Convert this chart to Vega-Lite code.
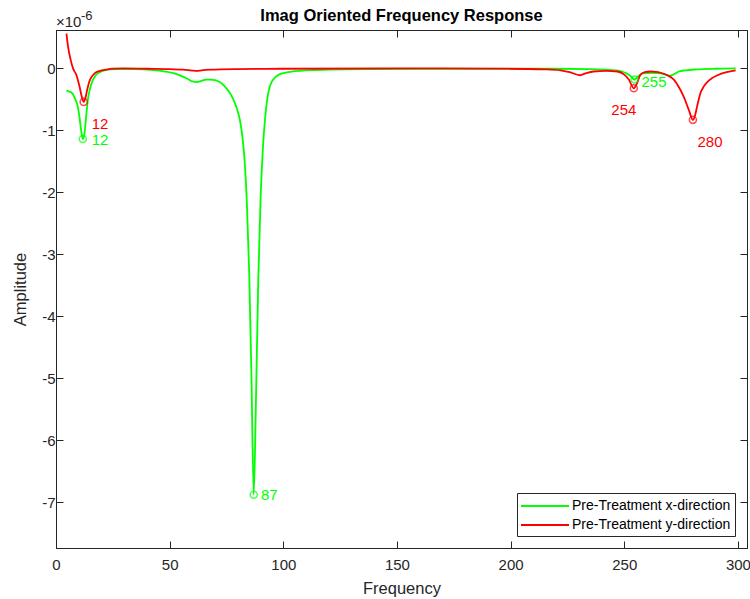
{
  "$schema": "https://vega.github.io/schema/vega-lite/v6.json",
  "width": 691,
  "height": 518,
  "autosize": {"type": "none"},
  "padding": {"left": 56, "top": 30, "right": 3, "bottom": 51},
  "background": "white",
  "config": {
    "font": "Liberation Sans",
    "view": {"stroke": "#262626", "strokeWidth": 1},
    "axis": {
      "domainColor": "#262626",
      "domainWidth": 1,
      "tickColor": "#262626",
      "tickWidth": 1,
      "tickSize": -7,
      "grid": false,
      "labelFlush": false,
      "labelFont": "Liberation Sans",
      "labelFontSize": 15,
      "labelColor": "#262626",
      "titleFont": "Liberation Sans",
      "titleFontSize": 16.5,
      "titleFontWeight": "normal",
      "titleColor": "#262626"
    },
    "legend": {
      "orient": "bottom-right",
      "offset": 12,
      "strokeColor": "#262626",
      "fillColor": "white",
      "padding": 4,
      "cornerRadius": 0,
      "labelFont": "Liberation Sans",
      "labelFontSize": 14,
      "labelColor": "#000000",
      "labelOffset": 18,
      "labelLimit": 400,
      "symbolType": "M-3,0H3",
      "symbolStrokeWidth": 2,
      "symbolSize": 256,
      "symbolOffset": 15,
      "rowPadding": 3,
      "title": null
    }
  },
  "title": {
    "text": "Imag Oriented Frequency Response",
    "font": "Liberation Sans",
    "fontSize": 16.5,
    "fontWeight": "bold",
    "color": "#000000",
    "anchor": "middle",
    "frame": "group",
    "offset": 6,
    "dy": 20
  },
  "resolve": {"axis": {"x": "independent", "y": "independent"}},
  "datasets": {
    "lines": [
      {"series": "Pre-Treatment x-direction", "f": 4.6, "a": -0.36},
      {"series": "Pre-Treatment x-direction", "f": 5.5, "a": -0.37},
      {"series": "Pre-Treatment x-direction", "f": 6.5, "a": -0.38},
      {"series": "Pre-Treatment x-direction", "f": 7.5, "a": -0.42},
      {"series": "Pre-Treatment x-direction", "f": 8.5, "a": -0.5},
      {"series": "Pre-Treatment x-direction", "f": 9.5, "a": -0.6},
      {"series": "Pre-Treatment x-direction", "f": 10.3, "a": -0.78},
      {"series": "Pre-Treatment x-direction", "f": 11, "a": -0.98},
      {"series": "Pre-Treatment x-direction", "f": 11.8, "a": -1.14},
      {"series": "Pre-Treatment x-direction", "f": 12.5, "a": -1.06},
      {"series": "Pre-Treatment x-direction", "f": 13.2, "a": -0.8},
      {"series": "Pre-Treatment x-direction", "f": 14, "a": -0.51},
      {"series": "Pre-Treatment x-direction", "f": 15, "a": -0.32},
      {"series": "Pre-Treatment x-direction", "f": 16.2, "a": -0.19},
      {"series": "Pre-Treatment x-direction", "f": 17.5, "a": -0.11},
      {"series": "Pre-Treatment x-direction", "f": 19.3, "a": -0.06},
      {"series": "Pre-Treatment x-direction", "f": 21.5, "a": -0.03},
      {"series": "Pre-Treatment x-direction", "f": 24, "a": -0.015},
      {"series": "Pre-Treatment x-direction", "f": 28, "a": -0.01},
      {"series": "Pre-Treatment x-direction", "f": 35, "a": -0.012},
      {"series": "Pre-Treatment x-direction", "f": 42, "a": -0.025},
      {"series": "Pre-Treatment x-direction", "f": 48, "a": -0.05},
      {"series": "Pre-Treatment x-direction", "f": 52, "a": -0.08},
      {"series": "Pre-Treatment x-direction", "f": 55, "a": -0.12},
      {"series": "Pre-Treatment x-direction", "f": 58, "a": -0.17},
      {"series": "Pre-Treatment x-direction", "f": 60, "a": -0.21},
      {"series": "Pre-Treatment x-direction", "f": 62, "a": -0.22},
      {"series": "Pre-Treatment x-direction", "f": 64, "a": -0.2},
      {"series": "Pre-Treatment x-direction", "f": 66, "a": -0.18},
      {"series": "Pre-Treatment x-direction", "f": 68, "a": -0.18},
      {"series": "Pre-Treatment x-direction", "f": 70, "a": -0.19},
      {"series": "Pre-Treatment x-direction", "f": 72, "a": -0.22},
      {"series": "Pre-Treatment x-direction", "f": 74, "a": -0.28},
      {"series": "Pre-Treatment x-direction", "f": 76, "a": -0.37},
      {"series": "Pre-Treatment x-direction", "f": 78, "a": -0.5},
      {"series": "Pre-Treatment x-direction", "f": 79.5, "a": -0.64},
      {"series": "Pre-Treatment x-direction", "f": 81, "a": -0.85},
      {"series": "Pre-Treatment x-direction", "f": 82, "a": -1.1},
      {"series": "Pre-Treatment x-direction", "f": 83, "a": -1.5},
      {"series": "Pre-Treatment x-direction", "f": 84, "a": -2.2},
      {"series": "Pre-Treatment x-direction", "f": 85, "a": -3.3},
      {"series": "Pre-Treatment x-direction", "f": 86, "a": -5.0},
      {"series": "Pre-Treatment x-direction", "f": 87, "a": -6.88},
      {"series": "Pre-Treatment x-direction", "f": 88, "a": -5.3},
      {"series": "Pre-Treatment x-direction", "f": 89, "a": -3.4},
      {"series": "Pre-Treatment x-direction", "f": 90, "a": -2.1},
      {"series": "Pre-Treatment x-direction", "f": 91, "a": -1.3},
      {"series": "Pre-Treatment x-direction", "f": 92, "a": -0.8},
      {"series": "Pre-Treatment x-direction", "f": 93, "a": -0.48},
      {"series": "Pre-Treatment x-direction", "f": 94, "a": -0.3},
      {"series": "Pre-Treatment x-direction", "f": 95, "a": -0.21},
      {"series": "Pre-Treatment x-direction", "f": 96.3, "a": -0.15},
      {"series": "Pre-Treatment x-direction", "f": 98, "a": -0.1},
      {"series": "Pre-Treatment x-direction", "f": 101.5, "a": -0.065},
      {"series": "Pre-Treatment x-direction", "f": 105, "a": -0.045},
      {"series": "Pre-Treatment x-direction", "f": 110, "a": -0.03},
      {"series": "Pre-Treatment x-direction", "f": 120, "a": -0.02},
      {"series": "Pre-Treatment x-direction", "f": 140, "a": -0.012},
      {"series": "Pre-Treatment x-direction", "f": 170, "a": -0.008},
      {"series": "Pre-Treatment x-direction", "f": 200, "a": -0.006},
      {"series": "Pre-Treatment x-direction", "f": 220, "a": -0.005},
      {"series": "Pre-Treatment x-direction", "f": 235, "a": -0.01},
      {"series": "Pre-Treatment x-direction", "f": 242, "a": -0.02},
      {"series": "Pre-Treatment x-direction", "f": 246, "a": -0.03},
      {"series": "Pre-Treatment x-direction", "f": 249, "a": -0.05},
      {"series": "Pre-Treatment x-direction", "f": 251, "a": -0.08},
      {"series": "Pre-Treatment x-direction", "f": 253, "a": -0.13},
      {"series": "Pre-Treatment x-direction", "f": 254.5, "a": -0.18},
      {"series": "Pre-Treatment x-direction", "f": 256, "a": -0.13},
      {"series": "Pre-Treatment x-direction", "f": 258, "a": -0.08},
      {"series": "Pre-Treatment x-direction", "f": 262, "a": -0.07},
      {"series": "Pre-Treatment x-direction", "f": 266, "a": -0.08},
      {"series": "Pre-Treatment x-direction", "f": 268, "a": -0.1},
      {"series": "Pre-Treatment x-direction", "f": 270, "a": -0.12},
      {"series": "Pre-Treatment x-direction", "f": 272, "a": -0.09},
      {"series": "Pre-Treatment x-direction", "f": 274, "a": -0.05},
      {"series": "Pre-Treatment x-direction", "f": 277, "a": -0.03},
      {"series": "Pre-Treatment x-direction", "f": 282, "a": -0.015},
      {"series": "Pre-Treatment x-direction", "f": 290, "a": -0.005},
      {"series": "Pre-Treatment x-direction", "f": 299, "a": 0.0},
      {"series": "Pre-Treatment y-direction", "f": 4.6, "a": 0.56},
      {"series": "Pre-Treatment y-direction", "f": 5.3, "a": 0.35},
      {"series": "Pre-Treatment y-direction", "f": 6.5, "a": 0.13},
      {"series": "Pre-Treatment y-direction", "f": 7.5, "a": 0.0},
      {"series": "Pre-Treatment y-direction", "f": 9.0, "a": -0.11},
      {"series": "Pre-Treatment y-direction", "f": 10.4, "a": -0.3},
      {"series": "Pre-Treatment y-direction", "f": 11.3, "a": -0.45},
      {"series": "Pre-Treatment y-direction", "f": 12.2, "a": -0.54},
      {"series": "Pre-Treatment y-direction", "f": 13, "a": -0.47},
      {"series": "Pre-Treatment y-direction", "f": 13.7, "a": -0.35},
      {"series": "Pre-Treatment y-direction", "f": 14.6, "a": -0.22},
      {"series": "Pre-Treatment y-direction", "f": 15.6, "a": -0.14},
      {"series": "Pre-Treatment y-direction", "f": 17, "a": -0.08},
      {"series": "Pre-Treatment y-direction", "f": 19.3, "a": -0.04},
      {"series": "Pre-Treatment y-direction", "f": 22, "a": -0.02},
      {"series": "Pre-Treatment y-direction", "f": 25, "a": -0.005},
      {"series": "Pre-Treatment y-direction", "f": 30, "a": 0.0},
      {"series": "Pre-Treatment y-direction", "f": 40, "a": -0.005},
      {"series": "Pre-Treatment y-direction", "f": 50, "a": -0.01},
      {"series": "Pre-Treatment y-direction", "f": 56, "a": -0.02},
      {"series": "Pre-Treatment y-direction", "f": 60, "a": -0.035},
      {"series": "Pre-Treatment y-direction", "f": 62, "a": -0.04},
      {"series": "Pre-Treatment y-direction", "f": 64, "a": -0.03},
      {"series": "Pre-Treatment y-direction", "f": 68, "a": -0.02},
      {"series": "Pre-Treatment y-direction", "f": 80, "a": -0.01},
      {"series": "Pre-Treatment y-direction", "f": 100, "a": -0.005},
      {"series": "Pre-Treatment y-direction", "f": 150, "a": 0.0},
      {"series": "Pre-Treatment y-direction", "f": 200, "a": -0.005},
      {"series": "Pre-Treatment y-direction", "f": 215, "a": -0.015},
      {"series": "Pre-Treatment y-direction", "f": 222, "a": -0.03},
      {"series": "Pre-Treatment y-direction", "f": 226, "a": -0.06},
      {"series": "Pre-Treatment y-direction", "f": 230.5, "a": -0.11},
      {"series": "Pre-Treatment y-direction", "f": 233, "a": -0.08},
      {"series": "Pre-Treatment y-direction", "f": 236.5, "a": -0.05},
      {"series": "Pre-Treatment y-direction", "f": 242, "a": -0.04},
      {"series": "Pre-Treatment y-direction", "f": 247, "a": -0.05},
      {"series": "Pre-Treatment y-direction", "f": 250, "a": -0.1},
      {"series": "Pre-Treatment y-direction", "f": 252, "a": -0.18},
      {"series": "Pre-Treatment y-direction", "f": 254.2, "a": -0.32},
      {"series": "Pre-Treatment y-direction", "f": 255.5, "a": -0.25},
      {"series": "Pre-Treatment y-direction", "f": 257, "a": -0.11},
      {"series": "Pre-Treatment y-direction", "f": 259, "a": -0.06},
      {"series": "Pre-Treatment y-direction", "f": 261.6, "a": -0.05},
      {"series": "Pre-Treatment y-direction", "f": 264, "a": -0.055},
      {"series": "Pre-Treatment y-direction", "f": 266, "a": -0.07},
      {"series": "Pre-Treatment y-direction", "f": 269, "a": -0.11},
      {"series": "Pre-Treatment y-direction", "f": 272, "a": -0.19},
      {"series": "Pre-Treatment y-direction", "f": 274, "a": -0.3},
      {"series": "Pre-Treatment y-direction", "f": 276.2, "a": -0.46},
      {"series": "Pre-Treatment y-direction", "f": 278.4, "a": -0.67},
      {"series": "Pre-Treatment y-direction", "f": 280.2, "a": -0.83},
      {"series": "Pre-Treatment y-direction", "f": 281.2, "a": -0.75},
      {"series": "Pre-Treatment y-direction", "f": 282, "a": -0.62},
      {"series": "Pre-Treatment y-direction", "f": 283.5, "a": -0.4},
      {"series": "Pre-Treatment y-direction", "f": 285, "a": -0.29},
      {"series": "Pre-Treatment y-direction", "f": 286.5, "a": -0.22},
      {"series": "Pre-Treatment y-direction", "f": 288.5, "a": -0.16},
      {"series": "Pre-Treatment y-direction", "f": 291, "a": -0.11},
      {"series": "Pre-Treatment y-direction", "f": 295, "a": -0.06},
      {"series": "Pre-Treatment y-direction", "f": 299, "a": -0.03}
    ],
    "peaks": [
      {"series": "Pre-Treatment x-direction", "f": 11.8, "a": -1.14, "label": "12", "lx": 15.7, "ly": -1.16},
      {"series": "Pre-Treatment x-direction", "f": 87, "a": -6.88, "label": "87", "lx": 90.2, "ly": -6.88},
      {"series": "Pre-Treatment x-direction", "f": 254.5, "a": -0.18, "label": "255", "lx": 257.6, "ly": -0.22},
      {"series": "Pre-Treatment y-direction", "f": 12.2, "a": -0.54, "label": "12", "lx": 15.7, "ly": -0.9},
      {"series": "Pre-Treatment y-direction", "f": 254.2, "a": -0.32, "label": "254", "lx": 244.3, "ly": -0.67},
      {"series": "Pre-Treatment y-direction", "f": 280.2, "a": -0.83, "label": "280", "lx": 282.2, "ly": -1.19}
    ],
    "exponent": [
      {"mult": "×10", "pow": "-6", "f": 0, "a": 0.62}
    ]
  },
  "layer": [
    {
      "data": {"name": "lines"},
      "mark": {"type": "line", "strokeWidth": 1.8, "interpolate": "monotone"},
      "encoding": {
        "x": {"field": "f", "type": "quantitative", "scale": {"domain": [0, 304], "nice": false, "zero": false},
              "axis": {"orient": "bottom", "title": "Frequency", "values": [0, 50, 100, 150, 200, 250, 300], "labelPadding": 16, "titlePadding": 8}},
        "y": {"field": "a", "type": "quantitative", "scale": {"domain": [-7.74, 0.62], "nice": false, "zero": false},
              "axis": {"orient": "left", "title": "Amplitude", "values": [-7, -6, -5, -4, -3, -2, -1, 0], "labelPadding": 8, "titlePadding": 13,
                       "labelExpr": "datum.value < 0 ? '-' + abs(datum.value) : '' + datum.value"}},
        "color": {"field": "series", "type": "nominal",
                  "scale": {"domain": ["Pre-Treatment x-direction", "Pre-Treatment y-direction"], "range": ["#00ff00", "#ff0000"]},
                  "legend": {"orient": "bottom-right", "title": null}},
        "order": {"field": "f", "type": "quantitative"}
      }
    },
    {
      "data": {"name": "peaks"},
      "mark": {"type": "point", "shape": "circle", "filled": false, "size": 50, "strokeWidth": 1.5},
      "encoding": {
        "x": {"field": "f", "type": "quantitative", "scale": {"domain": [0, 304], "nice": false, "zero": false},
              "axis": {"orient": "top", "title": null, "labels": false, "values": [0, 50, 100, 150, 200, 250, 300]}},
        "y": {"field": "a", "type": "quantitative", "scale": {"domain": [-7.74, 0.62], "nice": false, "zero": false},
              "axis": {"orient": "right", "title": null, "labels": false, "values": [-7, -6, -5, -4, -3, -2, -1, 0]}},
        "color": {"field": "series", "type": "nominal", "legend": null}
      }
    },
    {
      "data": {"name": "peaks"},
      "mark": {"type": "text", "align": "left", "baseline": "middle", "fontSize": 15, "font": "Liberation Sans"},
      "encoding": {
        "x": {"field": "lx", "type": "quantitative", "scale": {"domain": [0, 304], "nice": false, "zero": false}, "axis": null},
        "y": {"field": "ly", "type": "quantitative", "scale": {"domain": [-7.74, 0.62], "nice": false, "zero": false}, "axis": null},
        "color": {"field": "series", "type": "nominal", "legend": null},
        "text": {"field": "label"}
      }
    },
    {
      "data": {"name": "exponent"},
      "mark": {"type": "text", "align": "left", "baseline": "alphabetic", "fontSize": 15, "font": "Liberation Sans", "color": "#262626", "dy": -3, "clip": false},
      "encoding": {
        "x": {"field": "f", "type": "quantitative", "scale": {"domain": [0, 304], "nice": false, "zero": false}, "axis": null},
        "y": {"field": "a", "type": "quantitative", "scale": {"domain": [-7.74, 0.62], "nice": false, "zero": false}, "axis": null},
        "text": {"field": "mult"}
      }
    },
    {
      "data": {"name": "exponent"},
      "mark": {"type": "text", "align": "left", "baseline": "alphabetic", "fontSize": 13, "font": "Liberation Sans", "color": "#262626", "dx": 25, "dy": -10, "clip": false},
      "encoding": {
        "x": {"field": "f", "type": "quantitative", "scale": {"domain": [0, 304], "nice": false, "zero": false}, "axis": null},
        "y": {"field": "a", "type": "quantitative", "scale": {"domain": [-7.74, 0.62], "nice": false, "zero": false}, "axis": null},
        "text": {"field": "pow"}
      }
    }
  ]
}
